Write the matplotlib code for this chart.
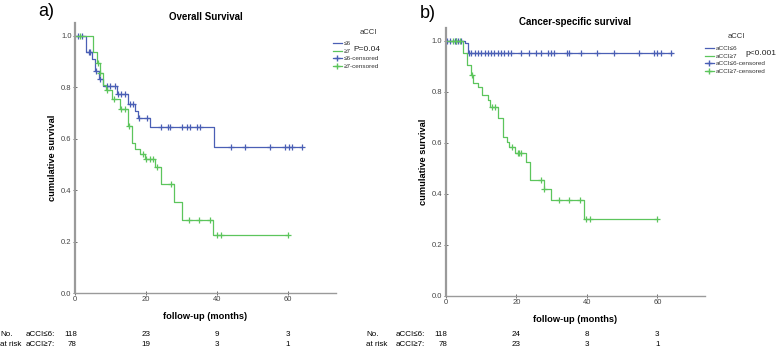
import numpy as np
import matplotlib.pyplot as plt
from matplotlib.lines import Line2D

plt.rcParams['font.family'] = ['Liberation Sans', 'DejaVu Sans']

BLUE = "#4a5fb5"
GREEN = "#5cc55c"
GRAY = "#9a9a9a"

# ---- a) overall survival ----
os_low_t = [0, 3.1, 4.8, 5.6, 6.7, 7.8, 11.8, 14.9, 16.9, 17.7, 21.1, 39.1, 64]
os_low_s = [1.0, 0.938, 0.909, 0.864, 0.832, 0.806, 0.773, 0.734, 0.709, 0.679, 0.646, 0.567, 0.567]
os_low_cens = [0.8, 2.0, 3.9, 4.2, 5.9, 7.1, 9.0, 9.9, 11.3, 12.1, 13.0, 14.0, 15.5, 16.3,
               18.0, 20.3, 24.2, 26.2, 26.8, 30.1, 31.5, 32.4, 34.4, 35.2,
               43.9, 47.9, 54.9, 59.2, 60.3, 61.1, 63.9]

os_high_t = [0, 5.0, 6.2, 7.0, 7.9, 8.7, 10.4, 12.7, 14.9, 16.1, 16.9, 18.3, 19.7, 22.5,
             24.2, 27.9, 30.1, 38.9, 60]
os_high_s = [1.0, 0.938, 0.893, 0.857, 0.808, 0.789, 0.754, 0.715, 0.649, 0.584, 0.56, 0.54,
             0.52, 0.49, 0.425, 0.353, 0.283, 0.227, 0.227]
os_high_cens = [1.5, 6.5, 7.1, 9.0, 11.1, 13.0, 14.1, 15.2, 19.2, 20.0, 21.1, 22.0, 23.1,
                27.0, 32.1, 34.9, 38.0, 40.0, 41.1, 60.0]

# ---- b) cancer-specific survival ----
css_low_t = [0, 5.4, 6.3, 64]
css_low_s = [1.0, 0.99, 0.953, 0.953]
css_low_cens = [0.5, 1.2, 2.5, 3.0, 3.5, 4.2, 6.6, 7.3, 8.2, 9.2, 10.1, 11.0, 12.0, 12.9,
                13.8, 14.8, 15.7, 16.6, 17.6, 18.6, 21.4, 23.7, 25.6, 27.0, 28.9, 29.8,
                30.8, 34.5, 35.0, 38.3, 43.0, 47.8, 54.9, 59.1, 60.0, 61.0, 63.8]

css_high_t = [0, 4.9, 6.1, 7.2, 7.8, 9.1, 10.2, 11.9, 12.5, 14.9, 16.3, 17.3, 17.9, 19.6,
              22.7, 24.0, 27.8, 29.9, 39.1, 60]
css_high_s = [1.0, 0.953, 0.905, 0.865, 0.835, 0.82, 0.787, 0.767, 0.741, 0.696, 0.624,
              0.604, 0.584, 0.558, 0.525, 0.454, 0.417, 0.375, 0.30, 0.30]
css_high_cens = [2.0, 3.0, 4.0, 7.5, 13.2, 13.9, 18.9, 20.4, 20.9, 21.3, 26.9, 27.9,
                 32.0, 35.0, 38.0, 39.9, 41.0, 60.0]

risk_times = [0, 20, 40, 60]
os_risk_low = ["118", "23", "9", "3"]
os_risk_high = ["78", "19", "3", "1"]
css_risk_low = ["118", "24", "8", "3"]
css_risk_high = ["78", "23", "3", "1"]


def km(ax, t, s, cens, color):
    ax.step(t, s, where='post', color=color, lw=0.9)
    t = np.asarray(t)
    s = np.asarray(s)
    idx = np.searchsorted(t, cens, side='right') - 1
    ax.plot(cens, s[idx], ls='none', marker='+', ms=5, mew=0.9, color=color)


def style(ax, xmax, ytop):
    ax.set_xlim(0, xmax)
    ax.set_ylim(0, ytop)
    for sp in ['top', 'right']:
        ax.spines[sp].set_visible(False)
    ax.spines['left'].set_color(GRAY)
    ax.spines['left'].set_linewidth(1.6)
    ax.spines['bottom'].set_color(GRAY)
    ax.spines['bottom'].set_linewidth(1.0)
    ax.set_xticks(risk_times)
    ax.set_yticks(np.arange(0, 1.01, 0.2))
    ax.set_yticklabels([f"{v:.1f}" for v in np.arange(0, 1.01, 0.2)])
    ax.tick_params(direction='inout', length=3, width=0.6, color="#555555",
                   labelsize=5.5, labelcolor="#444444", pad=1)
    ax.set_xlabel("follow-up (months)", fontsize=6.7, fontweight='bold', labelpad=6)
    ax.set_ylabel("cumulative survival", fontsize=6.7, fontweight='bold', labelpad=3)


fig = plt.figure(figsize=(7.76, 3.49), dpi=100)
W, H = 776, 349


def fx(px):
    return px / W


def fy(py):
    return 1 - py / H


ax1 = fig.add_axes([fx(75), fy(293), fx(336 - 75), (293 - 23) / H])
km(ax1, os_low_t, os_low_s, os_low_cens, BLUE)
km(ax1, os_high_t, os_high_s, os_high_cens, GREEN)
style(ax1, 73.5, 1.05)
ax1.set_title("Overall Survival", fontsize=7, fontweight='bold', pad=2)

# white cover so the left legend gets cut like the original panel
bg = fig.add_axes([fx(389), 0, 1 - fx(389), 1])
bg.set_zorder(0.5)
bg.axis('off')
bg.add_patch(plt.Rectangle((0, 0), 1, 1, color='white', transform=bg.transAxes))

ax2 = fig.add_axes([fx(445.7), fy(295.7), fx(704.7 - 445.7), (295.7 - 28) / H])
ax2.set_zorder(1)
km(ax2, css_low_t, css_low_s, css_low_cens, BLUE)
km(ax2, css_high_t, css_high_s, css_high_cens, GREEN)
style(ax2, 73.4, 1.05)
ax2.set_title("Cancer-specific survival", fontsize=7, fontweight='bold', pad=2)


def legend(ax, labels, x, y, title_xy, ptext, px, py):
    handles = [Line2D([], [], color=BLUE, lw=0.9),
               Line2D([], [], color=GREEN, lw=0.9),
               Line2D([], [], color=BLUE, lw=0.9, marker='+', ms=5),
               Line2D([], [], color=GREEN, lw=0.9, marker='+', ms=5)]
    leg = ax.legend(handles, labels, loc='upper left',
                    bbox_to_anchor=(fx(x), fy(y)), bbox_transform=fig.transFigure,
                    frameon=False, fontsize=4.6, handleheight=0.6,
                    handlelength=1.4, handletextpad=0.3, labelspacing=0.35,
                    borderpad=0, borderaxespad=0)
    for t in leg.get_texts():
        t.set_color("#333333")
    ax.text(fx(title_xy[0]), fy(title_xy[1]), "aCCI", transform=fig.transFigure,
            fontsize=5.5, ha='center', va='center', color="#333333")
    ax.text(fx(px), fy(py), ptext, transform=fig.transFigure, fontsize=6,
            va='center', color="#222222")


legend(ax1, ["≤6", "≥7", "≤6-censored", "≥7-censored"], 333, 41, (368, 32),
       "P=0.04", 353, 49.5)
legend(ax2, ["aCCI≤6", "aCCI≥7", "aCCI≤6-censored", "aCCI≥7-censored"], 705, 46, (736, 37),
       "p<0.001", 745, 53.5)

# panel letters
fig.text(fx(38), fy(12), "a)", fontsize=13, va='center')
fig.text(fx(420), fy(13), "b)", fontsize=13, va='center')

RFS = 5.8


# numbers at risk
def risk_table(ax, x0, grp_x, low, high):
    fig.text(fx(x0), fy(335), "No.", fontsize=RFS, va='center')
    fig.text(fx(x0), fy(345), "at risk", fontsize=RFS, va='center')
    fig.text(fx(grp_x), fy(335), "aCCI≤6:", fontsize=RFS, va='center')
    fig.text(fx(grp_x), fy(345), "aCCI≥7:", fontsize=RFS, va='center')
    for i, tm in enumerate(risk_times):
        xd = ax.transData.transform((tm, 0))[0] / W
        if i == 0:
            fig.text(xd + fx(2), fy(335), low[i], fontsize=RFS, va='center', ha='right')
            fig.text(xd + fx(2), fy(345), high[i], fontsize=RFS, va='center', ha='right')
        else:
            fig.text(xd, fy(335), low[i], fontsize=RFS, va='center', ha='center')
            fig.text(xd, fy(345), high[i], fontsize=RFS, va='center', ha='center')


risk_table(ax1, 0, 26, os_risk_low, os_risk_high)
risk_table(ax2, 366, 396, css_risk_low, css_risk_high)

fig.savefig("out.png", dpi=100)
